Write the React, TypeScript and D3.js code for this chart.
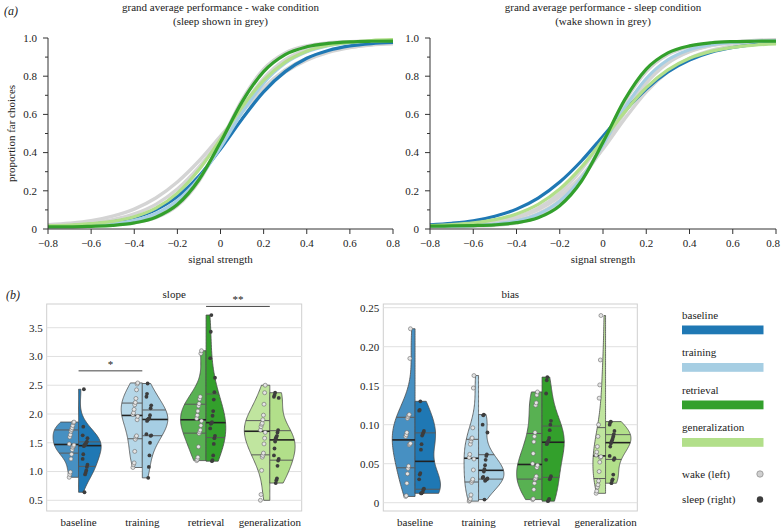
import React from 'react';
import * as d3 from 'd3';

// ---------- data ----------
const CONDITIONS = ['baseline', 'training', 'retrieval', 'generalization'];
const COLORS = ['#1f78b4', '#a6cee3', '#33a02c', '#b2df8a'];
const DRAW_ORDER = [0, 1, 3, 2];

const SIGNAL_X = [-0.8, -0.7, -0.6, -0.5, -0.4, -0.3, -0.2, -0.1, 0, 0.1, 0.2, 0.3, 0.4, 0.5, 0.6, 0.7, 0.8];
const X_TICKS = [-0.8, -0.6, -0.4, -0.2, 0, 0.2, 0.4, 0.6, 0.8];
const Y_TICKS = [0, 0.2, 0.4, 0.6, 0.8, 1.0];
const Y_MINOR = [0.1, 0.3, 0.5, 0.7, 0.9];

const WAKE_BASELINE = [0.014, 0.017, 0.024, 0.037, 0.060, 0.101, 0.170, 0.277, 0.419, 0.576, 0.718, 0.824, 0.894, 0.935, 0.959, 0.971, 0.977];
const WAKE_TRAINING = [0.012, 0.014, 0.018, 0.027, 0.045, 0.081, 0.149, 0.264, 0.427, 0.609, 0.764, 0.868, 0.928, 0.960, 0.975, 0.983, 0.987];
const WAKE_RETRIEVAL = [0.011, 0.011, 0.014, 0.019, 0.032, 0.062, 0.128, 0.258, 0.454, 0.666, 0.824, 0.913, 0.954, 0.972, 0.980, 0.983, 0.984];
const WAKE_GENERALIZATION = [0.018, 0.021, 0.028, 0.040, 0.064, 0.109, 0.188, 0.310, 0.471, 0.639, 0.778, 0.874, 0.931, 0.962, 0.978, 0.987, 0.991];
const SLEEP_BASELINE = [0.022, 0.030, 0.043, 0.067, 0.104, 0.162, 0.246, 0.356, 0.486, 0.617, 0.733, 0.822, 0.884, 0.925, 0.950, 0.966, 0.975];
const SLEEP_TRAINING = [0.013, 0.015, 0.018, 0.026, 0.042, 0.077, 0.146, 0.266, 0.441, 0.633, 0.788, 0.886, 0.939, 0.965, 0.977, 0.982, 0.985];
const SLEEP_RETRIEVAL = [0.015, 0.016, 0.018, 0.022, 0.033, 0.059, 0.122, 0.250, 0.454, 0.676, 0.837, 0.922, 0.959, 0.975, 0.981, 0.983, 0.984];
const SLEEP_GENERALIZATION = [0.018, 0.023, 0.032, 0.049, 0.079, 0.129, 0.209, 0.324, 0.466, 0.612, 0.740, 0.833, 0.894, 0.930, 0.951, 0.963, 0.969];

const WAKE_CURVES = [WAKE_BASELINE, WAKE_TRAINING, WAKE_RETRIEVAL, WAKE_GENERALIZATION];
const SLEEP_CURVES = [SLEEP_BASELINE, SLEEP_TRAINING, SLEEP_RETRIEVAL, SLEEP_GENERALIZATION];

// slope (per participant)
const SLOPE_WAKE_BASELINE = [0.90, 0.95, 0.99, 1.22, 1.30, 1.38, 1.42, 1.44, 1.46, 1.48, 1.60, 1.64, 1.70, 1.73, 1.76, 1.80, 1.85, 1.86];
const SLOPE_SLEEP_BASELINE = [0.64, 0.95, 0.98, 1.02, 1.08, 1.12, 1.22, 1.30, 1.44, 1.46, 1.47, 1.48, 1.50, 1.52, 1.58, 1.63, 1.78, 2.43];
const SLOPE_WAKE_TRAINING = [1.07, 1.12, 1.15, 1.35, 1.56, 1.60, 1.62, 1.90, 1.96, 1.99, 2.02, 2.08, 2.16, 2.20, 2.27, 2.42, 2.52, 2.54];
const SLOPE_SLEEP_TRAINING = [0.89, 1.08, 1.28, 1.50, 1.62, 1.63, 1.65, 1.88, 1.90, 1.91, 1.92, 1.93, 1.98, 2.10, 2.15, 2.30, 2.35, 2.53];
const SLOPE_WAKE_RETRIEVAL = [1.19, 1.21, 1.25, 1.43, 1.66, 1.69, 1.72, 1.80, 1.88, 1.92, 1.98, 2.05, 2.14, 2.18, 2.26, 2.30, 3.05, 3.10];
const SLOPE_SLEEP_RETRIEVAL = [1.18, 1.20, 1.28, 1.48, 1.58, 1.62, 1.75, 1.83, 1.84, 1.86, 1.97, 2.05, 2.25, 2.38, 2.63, 2.97, 3.43, 3.72];
const SLOPE_WAKE_GENERALIZATION = [0.50, 0.60, 1.02, 1.25, 1.28, 1.32, 1.48, 1.58, 1.68, 1.72, 1.78, 1.82, 1.84, 1.90, 1.98, 2.17, 2.37, 2.50];
const SLOPE_SLEEP_GENERALIZATION = [0.80, 0.85, 0.88, 1.10, 1.19, 1.22, 1.28, 1.40, 1.52, 1.58, 1.60, 1.62, 1.68, 1.72, 2.28, 2.30, 2.33, 2.37];

// bias (per participant)
const BIAS_WAKE_BASELINE = [0.008, 0.009, 0.025, 0.037, 0.044, 0.047, 0.074, 0.075, 0.076, 0.085, 0.087, 0.090, 0.108, 0.110, 0.112, 0.113, 0.185, 0.223];
const BIAS_SLEEP_BASELINE = [0.012, 0.012, 0.013, 0.014, 0.017, 0.018, 0.030, 0.036, 0.038, 0.068, 0.075, 0.086, 0.088, 0.090, 0.092, 0.118, 0.119, 0.130];
const BIAS_WAKE_TRAINING = [0.002, 0.003, 0.005, 0.010, 0.026, 0.028, 0.030, 0.042, 0.056, 0.058, 0.062, 0.075, 0.079, 0.082, 0.083, 0.096, 0.147, 0.163];
const BIAS_SLEEP_TRAINING = [0.004, 0.028, 0.029, 0.030, 0.030, 0.031, 0.032, 0.033, 0.040, 0.043, 0.048, 0.055, 0.060, 0.062, 0.090, 0.100, 0.112, 0.113];
const BIAS_WAKE_RETRIEVAL = [0.004, 0.005, 0.017, 0.025, 0.030, 0.031, 0.034, 0.045, 0.048, 0.050, 0.063, 0.078, 0.085, 0.090, 0.125, 0.128, 0.138, 0.142];
const BIAS_SLEEP_RETRIEVAL = [0.002, 0.003, 0.005, 0.030, 0.032, 0.034, 0.055, 0.075, 0.077, 0.078, 0.080, 0.083, 0.093, 0.100, 0.105, 0.140, 0.157, 0.161];
const BIAS_WAKE_GENERALIZATION = [0.012, 0.015, 0.020, 0.023, 0.028, 0.040, 0.052, 0.058, 0.059, 0.061, 0.065, 0.072, 0.085, 0.100, 0.134, 0.151, 0.183, 0.240];
const BIAS_SLEEP_GENERALIZATION = [0.025, 0.028, 0.030, 0.036, 0.055, 0.057, 0.060, 0.072, 0.076, 0.078, 0.080, 0.082, 0.085, 0.088, 0.092, 0.100, 0.103, 0.104];

const SLOPE_WAKE = [SLOPE_WAKE_BASELINE, SLOPE_WAKE_TRAINING, SLOPE_WAKE_RETRIEVAL, SLOPE_WAKE_GENERALIZATION];
const SLOPE_SLEEP = [SLOPE_SLEEP_BASELINE, SLOPE_SLEEP_TRAINING, SLOPE_SLEEP_RETRIEVAL, SLOPE_SLEEP_GENERALIZATION];
const BIAS_WAKE = [BIAS_WAKE_BASELINE, BIAS_WAKE_TRAINING, BIAS_WAKE_RETRIEVAL, BIAS_WAKE_GENERALIZATION];
const BIAS_SLEEP = [BIAS_SLEEP_BASELINE, BIAS_SLEEP_TRAINING, BIAS_SLEEP_RETRIEVAL, BIAS_SLEEP_GENERALIZATION];

const SLOPE_TICKS = [0.5, 1.0, 1.5, 2.0, 2.5, 3.0, 3.5];
const BIAS_TICKS = [0, 0.05, 0.1, 0.15, 0.2, 0.25];

// significance: [from index, to index, y value, label]
const SLOPE_SIG: [number, number, number, string][] = [[0, 1, 2.75, '*'], [2, 3, 3.87, '**']];

const FONT = 'Liberation Serif, DejaVu Serif, serif';
const GREY = '#d4d4d4';
const TXT = '#222';
const SVG_W = 781;

function fmtSigned(v: number) {
  if (Math.abs(v) < 1e-9) return '0';
  return (v < 0 ? '\u2212' : '') + Math.abs(v).toFixed(1);
}

// ---------- psychometric panel ----------
function CurvePanel(props: {
  x0: number; x1: number; title1: string; title2: string;
  colored: number[][]; grey: number[][]; yLabel: boolean;
}) {
  const { x0, x1, title1, title2, colored, grey, yLabel } = props;
  const x = d3.scaleLinear().domain([-0.8, 0.8]).range([x0, x1]);
  const y = d3.scaleLinear().domain([0, 1]).range([229, 38]);
  const line = d3.line<number>()
    .x((_, i) => x(SIGNAL_X[i]))
    .y((d) => y(d))
    .curve(d3.curveMonotoneX);
  const cxm = (x0 + x1) / 2;
  return (
    <g>
      <text x={cxm} y={11} textAnchor="middle" fontSize={11} fill={TXT}>{title1}</text>
      <text x={cxm} y={25} textAnchor="middle" fontSize={11} fill={TXT}>{title2}</text>
      {grey.map((c, i) => (
        <path key={'g' + i} d={line(c) || ''} fill="none" stroke={GREY} strokeWidth={3.4} />
      ))}
      {DRAW_ORDER.map((i) => (
        <path key={'c' + i} d={line(colored[i]) || ''} fill="none" stroke={COLORS[i]} strokeWidth={3.2} />
      ))}
      {/* axes */}
      <line x1={x0} x2={x0} y1={y(0)} y2={y(1)} stroke="#333" strokeWidth={1} />
      <line x1={x0} x2={x1} y1={y(0)} y2={y(0)} stroke="#333" strokeWidth={1} />
      {Y_TICKS.map((t) => (
        <g key={'yt' + t}>
          <line x1={x0 - 5} x2={x0} y1={y(t)} y2={y(t)} stroke="#333" />
          <text x={x0 - 11} y={y(t)} dy="0.35em" textAnchor="end" fontSize={11} fill={TXT}>
            {t === 0 ? '0' : t.toFixed(1)}
          </text>
        </g>
      ))}
      {Y_MINOR.map((t) => (
        <line key={'ym' + t} x1={x0 - 3} x2={x0} y1={y(t)} y2={y(t)} stroke="#333" />
      ))}
      {X_TICKS.map((t) => {
        const px = x(t);
        const nearEdge = px + 8 > SVG_W;
        return (
          <g key={'xt' + t}>
            <line x1={px} x2={px} y1={y(0)} y2={y(0) + 5} stroke="#333" />
            <text x={nearEdge ? SVG_W - 1 : px} y={y(0) + 18} textAnchor={nearEdge ? 'end' : 'middle'} fontSize={11} fill={TXT}>
              {fmtSigned(t)}
            </text>
          </g>
        );
      })}
      <text x={cxm} y={263} textAnchor="middle" fontSize={11} fill={TXT}>signal strength</text>
      {yLabel && (
        <text transform={`translate(15,${y(0.5)}) rotate(-90)`} textAnchor="middle" fontSize={11} fill={TXT}>
          proportion far choices
        </text>
      )}
    </g>
  );
}

// ---------- KDE ----------
function makeKde(values: number[]) {
  const n = values.length;
  const sd = d3.deviation(values) || 1;
  const bw = sd * Math.pow(n, -1 / 5);
  const dens = (v: number) =>
    (d3.mean(values, (s) => Math.exp(-0.5 * ((v - s) / bw) ** 2)) || 0) / (bw * Math.sqrt(2 * Math.PI));
  const lo = d3.min(values) as number;
  const hi = d3.max(values) as number;
  const grid = d3.range(100).map((i) => lo + ((hi - lo) * i) / 99);
  const pts: [number, number][] = grid.map((g) => [g, dens(g)]);
  return { pts, dens, max: d3.max(pts, (p) => p[1]) as number };
}

function lighten(c: string, k: number) {
  return d3.interpolateRgb(c, '#ffffff')(k);
}

// ---------- violin panel ----------
function ViolinPanel(props: {
  fx0: number; fx1: number; fy0: number; fy1: number;
  y: d3.ScaleLinear<number, number>; ticks: number[]; fmt: (v: number) => string;
  title: string; wake: number[][]; sleep: number[][];
  sig: [number, number, number, string][];
}) {
  const { fx0, fx1, fy0, fy1, y, ticks, fmt, title, wake, sleep, sig } = props;
  const band = d3.scaleBand().domain(CONDITIONS).range([fx0, fx1]).padding(0);
  const bw = band.bandwidth();
  const hw = bw * 0.4;
  const center = (i: number) => (band(CONDITIONS[i]) as number) + bw / 2;
  const jit = (i: number) => (((i * 37) % 9) - 4) * 0.6;

  return (
    <g>
      <text x={(fx0 + fx1) / 2} y={298} textAnchor="middle" fontSize={11} fill={TXT}>{title}</text>
      <rect x={fx0} y={fy0} width={fx1 - fx0} height={fy1 - fy0} fill="#fff" stroke="#cfcfcf" strokeWidth={1} />
      {ticks.map((t) => (
        <g key={'gt' + t}>
          <line x1={fx0} x2={fx1} y1={y(t)} y2={y(t)} stroke="#e0e0e0" strokeWidth={1} />
          <text x={fx0 - 4} y={y(t)} dy="0.35em" textAnchor="end" fontSize={11} fill={TXT}>{fmt(t)}</text>
        </g>
      ))}
      {CONDITIONS.map((c, i) => {
        const cx = center(i);
        const kw = makeKde(wake[i]);
        const ks = makeKde(sleep[i]);
        const maxD = Math.max(kw.max, ks.max);
        const wOf = (d: number) => (d / maxD) * hw;
        const leftArea = d3.area<[number, number]>()
          .y((d) => y(d[0]))
          .x0(() => cx)
          .x1((d) => cx - wOf(d[1]));
        const rightArea = d3.area<[number, number]>()
          .y((d) => y(d[0]))
          .x0(() => cx)
          .x1((d) => cx + wOf(d[1]));
        const qs = (vals: number[]) => {
          const s = vals.slice().sort(d3.ascending);
          return [d3.quantile(s, 0.25) as number, d3.quantile(s, 0.5) as number, d3.quantile(s, 0.75) as number];
        };
        const qw = qs(wake[i]);
        const qsl = qs(sleep[i]);
        return (
          <g key={c}>
            <path d={leftArea(kw.pts) || ''} fill={lighten(COLORS[i], 0.18)} stroke="#4a4a4a" strokeWidth={0.8} />
            <path d={rightArea(ks.pts) || ''} fill={COLORS[i]} stroke="#4a4a4a" strokeWidth={0.8} />
            {qw.map((q, k) => (
              <line key={'qw' + k} x1={cx} x2={cx - wOf(kw.dens(q))} y1={y(q)} y2={y(q)}
                stroke={k === 1 ? '#222' : '#5a5a5a'} strokeWidth={k === 1 ? 1.6 : 1} />
            ))}
            {qsl.map((q, k) => (
              <line key={'qs' + k} x1={cx} x2={cx + wOf(ks.dens(q))} y1={y(q)} y2={y(q)}
                stroke={k === 1 ? '#222' : '#5a5a5a'} strokeWidth={k === 1 ? 1.6 : 1} />
            ))}
            {wake[i].map((v, j) => (
              <circle key={'pw' + j} cx={cx - 7 + jit(j)} cy={y(v)} r={2} fill="#e4e4e4" stroke="#6a6a6a" strokeWidth={0.6} />
            ))}
            {sleep[i].map((v, j) => (
              <circle key={'ps' + j} cx={cx + 6.5 + jit(j + 3)} cy={y(v)} r={1.9} fill="#3d3d3d" />
            ))}
            <text x={cx} y={526} textAnchor="middle" fontSize={11} fill={TXT}>{c}</text>
          </g>
        );
      })}
      {sig.map(([a, b, v, lab], k) => (
        <g key={'sig' + k}>
          <line x1={center(a)} x2={center(b)} y1={y(v)} y2={y(v)} stroke="#444" strokeWidth={1} />
          <text x={(center(a) + center(b)) / 2} y={y(v) - 3} textAnchor="middle" fontSize={11} fill={TXT}>{lab}</text>
        </g>
      ))}
    </g>
  );
}

export default function App() {
  const ySlope = d3.scaleLinear().domain([0.5, 3.5]).range([500.3, 327.7]);
  const yBias = d3.scaleLinear().domain([0, 0.25]).range([502.7, 307.7]);
  const legendY = [315, 352.5, 390, 427.5];
  return (
    <svg width={SVG_W} height={529} style={{ position: 'absolute', left: 0, top: 0, background: '#fff', fontFamily: FONT }}>
      <text x={4} y={15} fontSize={12} fontStyle="italic" fill={TXT}>(a)</text>
      <CurvePanel x0={48} x1={393} title1="grand average performance - wake condition" title2="(sleep shown in grey)"
        colored={WAKE_CURVES} grey={SLEEP_CURVES} yLabel={true} />
      <CurvePanel x0={430} x1={776} title1="grand average performance - sleep condition" title2="(wake shown in grey)"
        colored={SLEEP_CURVES} grey={WAKE_CURVES} yLabel={false} />

      <text x={6} y={299} fontSize={12} fontStyle="italic" fill={TXT}>(b)</text>
      <ViolinPanel fx0={46.7} fx1={301.7} fy0={304} fy1={511} y={ySlope} ticks={SLOPE_TICKS}
        fmt={(v) => v.toFixed(1)} title="slope" wake={SLOPE_WAKE} sleep={SLOPE_SLEEP} sig={SLOPE_SIG} />
      <ViolinPanel fx0={383.3} fx1={637.3} fy0={304} fy1={511} y={yBias} ticks={BIAS_TICKS}
        fmt={(v) => (v === 0 ? '0' : v.toFixed(2))} title="bias" wake={BIAS_WAKE} sleep={BIAS_SLEEP} sig={[]} />

      {/* legend */}
      {CONDITIONS.map((c, i) => (
        <g key={'lg' + c}>
          <text x={682} y={legendY[i]} dy="0.35em" fontSize={11} fill={TXT}>{c}</text>
          <rect x={682} y={legendY[i] + 10.5} width={81.5} height={8.8} fill={COLORS[i]} />
        </g>
      ))}
      <text x={682} y={474} dy="0.35em" fontSize={11} fill={TXT}>wake (left)</text>
      <circle cx={760} cy={474} r={3.2} fill="#d0d0d0" stroke="#888" strokeWidth={0.7} />
      <text x={682} y={499.5} dy="0.35em" fontSize={11} fill={TXT}>sleep (right)</text>
      <circle cx={760} cy={499.5} r={3.2} fill="#3d3d3d" />
    </svg>
  );
}
